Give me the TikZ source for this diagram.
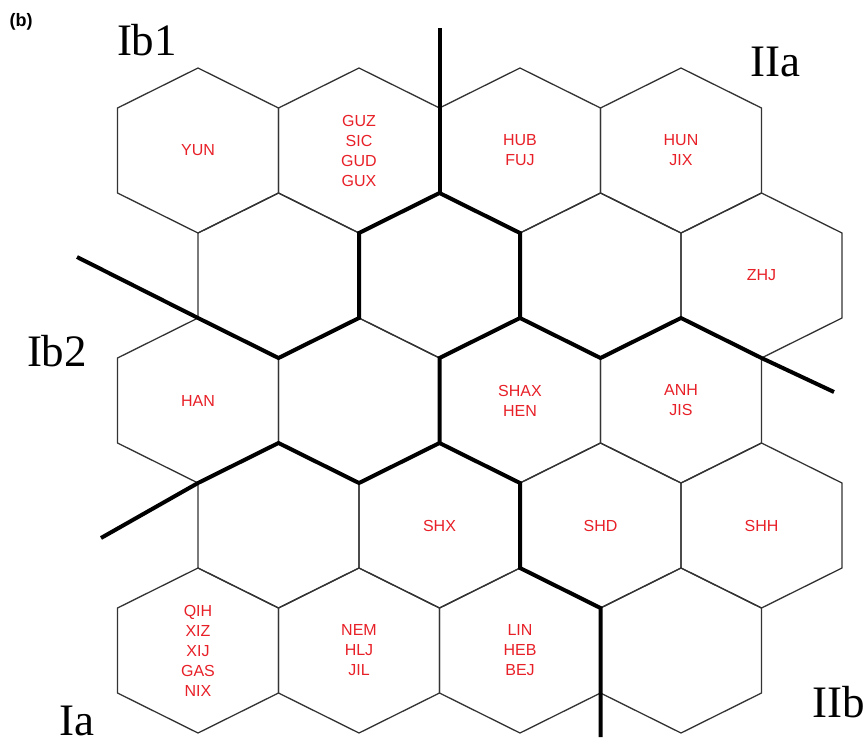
\documentclass[tikz,border=0pt]{standalone}
\usepackage{fontspec}
\setmainfont{Liberation Serif}
\newfontfamily\arialf{Liberation Sans}
\usetikzlibrary{calc}
\definecolor{labred}{RGB}{232,32,40}
\tikzset{
  hexline/.style={draw=black!80, line width=1.3pt, line join=miter},
  bound/.style={draw=black, line width=4pt, line join=miter},
  cell/.style={text=labred, font=\arialf\fontsize{16}{20}\selectfont, align=center, inner sep=0pt},
  region/.style={font=\fontsize{45}{50}\selectfont, inner sep=0pt},
  tag/.style={font=\arialf\bfseries\fontsize{18}{20}\selectfont, inner sep=0pt}
}
\begin{document}
\begin{tikzpicture}[x=1pt,y=-1pt]
\useasboundingbox (0,0) rectangle (868,745);
\fill[white] (0,0) rectangle (868,745);
% hexagon grid
\foreach \r in {1,...,5}{
  \foreach \c in {1,...,4}{
    \pgfmathsetmacro\cx{198+161*(\c-1)+80.5*(1-mod(\r,2))}
    \pgfmathsetmacro\cy{150.5+125*(\r-1)}
    \coordinate (h\r\c) at (\cx,\cy);
    \coordinate (h\r\c-T) at (\cx,\cy-82.5);
    \coordinate (h\r\c-UR) at (\cx+80.5,\cy-42.5);
    \coordinate (h\r\c-LR) at (\cx+80.5,\cy+42.5);
    \coordinate (h\r\c-B) at (\cx,\cy+82.5);
    \coordinate (h\r\c-LL) at (\cx-80.5,\cy+42.5);
    \coordinate (h\r\c-UL) at (\cx-80.5,\cy-42.5);
    \draw[hexline] (h\r\c-T) -- (h\r\c-UR) -- (h\r\c-LR) -- (h\r\c-B) -- (h\r\c-LL) -- (h\r\c-UL) -- cycle;
  }
}
% free ends of the boundary lines
\coordinate (endNW) at (77,257);
\coordinate (endN) at (439.5,28);
\coordinate (endE) at (834,392);
\coordinate (endSW) at (101,538);
\coordinate (endS) at (600.5,737);
% boundary lines
\draw[bound] (endNW) -- (h31-T) -- (h31-UR) -- (h32-T) -- (h22-UL) -- (h22-T) -- (h22-UR) -- (h33-T) -- (h33-UR) -- (h34-T) -- (h34-UR) -- (endE);
\draw[bound] (endN) -- (h22-T);
\draw[bound] (h33-T) -- (h33-UL) -- (h33-LL) -- (h33-B) -- (h43-LL) -- (h43-B) -- (endS);
\draw[bound] (endSW) -- (h31-B) -- (h31-LR) -- (h32-B) -- (h33-LL);
% cell labels
\node[cell] (yun) at (h11) {YUN};
\node[cell] (guz) at (h12) {GUZ\\SIC\\GUD\\GUX};
\node[cell] (hub) at (h13) {HUB\\FUJ};
\node[cell] (hun) at (h14) {HUN\\JIX};
\node[cell] (zhj) at (h24) {ZHJ};
\node[cell] (han) at (h31) {HAN};
\node[cell] (shax) at (h33) {SHAX\\HEN};
\node[cell] (anh) at (h34) {ANH\\JIS};
\node[cell] (shx) at (h42) {SHX};
\node[cell] (shd) at (h43) {SHD};
\node[cell] (shh) at (h44) {SHH};
\node[cell] (qih) at (h51) {QIH\\XIZ\\XIJ\\GAS\\NIX};
\node[cell] (nem) at (h52) {NEM\\HLJ\\JIL};
\node[cell] (lin) at (h53) {LIN\\HEB\\BEJ};
% region labels
\node[region] (ib1) at (147,40) {Ib1};
\node[region] (iia) at (775,62) {IIa};
\node[region] (ib2) at (57,351) {Ib2};
\node[region] (ia) at (77,721) {Ia};
\node[region] (iib) at (839,702) {IIb};
\node[tag] (b) at (21,22) {(b)};
\end{tikzpicture}
\end{document}
